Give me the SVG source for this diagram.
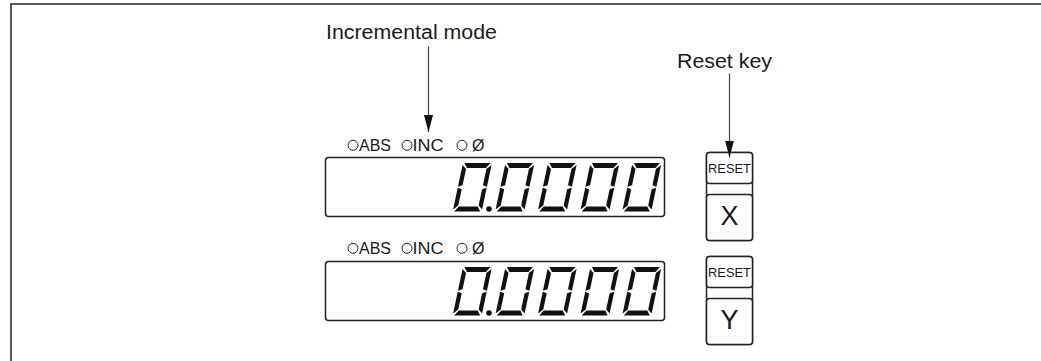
<svg xmlns="http://www.w3.org/2000/svg" width="1041" height="361" viewBox="0 0 1041 361">
<style>
text{font-family:"Liberation Sans",Arial,sans-serif;fill:#1a1a1a}
.frame{fill:none;stroke:#5a5a5a;stroke-width:2}
.box{fill:#fff;stroke:#222;stroke-width:1.5}
.led{fill:none;stroke:#222;stroke-width:1}
.seg{fill:#111}
.conn{stroke:#444;stroke-width:1.2;fill:none}
.lbl{font-size:16px}
.callout{font-size:20px}
.rst{font-size:13.5px}
.axis{font-size:27px}
</style>
<defs>
<g id="zero" class="seg">
<polygon points="1.5,0 27.5,0 24,5 5,5"/>
<polygon points="5,43.5 24,43.5 27.5,48.5 1.5,48.5"/>
<polygon points="0,2 4.3,6 4.3,22.3 0,23.8"/>
<polygon points="0,24.8 4.3,26.3 4.3,42.5 0,46.5"/>
<polygon points="29,2 29,23.8 24.7,22.3 24.7,6"/>
<polygon points="29,24.8 29,46.5 24.7,42.5 24.7,26.3"/>
</g>
<g id="readout">
<use href="#zero" transform="translate(463,0) skewX(-12)"/>
<circle class="seg" cx="489" cy="46" r="2.8"/>
<use href="#zero" transform="translate(505.5,0) skewX(-12)"/>
<use href="#zero" transform="translate(548,0) skewX(-12)"/>
<use href="#zero" transform="translate(590.5,0) skewX(-12)"/>
<use href="#zero" transform="translate(632.5,0) skewX(-12)"/>
</g>
<marker id="arr" markerWidth="17" markerHeight="9" refX="17" refY="4.5" orient="auto" markerUnits="userSpaceOnUse" viewBox="0 0 17 9">
<path d="M0,0 L17,4.5 L0,9 Z" fill="#111"/>
</marker>
</defs>

<path class="frame" d="M11,361 V4 H1041"/>

<g id="label-incremental">
<text class="callout" x="326" y="38.5" textLength="171" lengthAdjust="spacingAndGlyphs">Incremental mode</text>
</g>
<g id="label-reset">
<text class="callout" x="677" y="67.5" textLength="95" lengthAdjust="spacingAndGlyphs">Reset key</text>
</g>

<g id="display-x">
<g id="indicators-x">
<circle class="led" cx="353" cy="145.3" r="5"/>
<text class="lbl" x="359" y="150.5" textLength="32" lengthAdjust="spacingAndGlyphs">ABS</text>
<circle class="led" cx="407" cy="145.3" r="5"/>
<text class="lbl" x="412.5" y="150.5" textLength="31" lengthAdjust="spacingAndGlyphs">INC</text>
<circle class="led" cx="462" cy="145.3" r="5"/>
<text class="lbl" x="472" y="150.5">Ø</text>
</g>
<rect class="box" x="325.5" y="157.5" width="339" height="59" rx="3"/>
<use href="#readout" transform="translate(0,163)"/>
</g>

<g id="display-y">
<g id="indicators-y">
<circle class="led" cx="353" cy="248.3" r="5"/>
<text class="lbl" x="359" y="253.5" textLength="32" lengthAdjust="spacingAndGlyphs">ABS</text>
<circle class="led" cx="407" cy="248.3" r="5"/>
<text class="lbl" x="412.5" y="253.5" textLength="31" lengthAdjust="spacingAndGlyphs">INC</text>
<circle class="led" cx="462" cy="248.3" r="5"/>
<text class="lbl" x="472" y="253.5">Ø</text>
</g>
<rect class="box" x="325.5" y="261.5" width="339" height="59" rx="3"/>
<use href="#readout" transform="translate(0,267)"/>
</g>

<g id="key-x">
<rect class="box" x="706.5" y="152.5" width="46" height="88" rx="3"/>
<rect class="box" x="706.5" y="152.5" width="46" height="31" rx="3"/>
<rect class="box" x="706.5" y="194.5" width="46" height="46" rx="3"/>
<text class="rst" x="729.5" y="172.5" text-anchor="middle" textLength="43" lengthAdjust="spacingAndGlyphs">RESET</text>
<text class="axis" x="729.5" y="225" text-anchor="middle">X</text>
</g>

<g id="key-y">
<rect class="box" x="706.5" y="256.5" width="46" height="88" rx="3"/>
<rect class="box" x="706.5" y="256.5" width="46" height="31" rx="3"/>
<rect class="box" x="706.5" y="298.5" width="46" height="46" rx="3"/>
<text class="rst" x="729.5" y="276.5" text-anchor="middle" textLength="43" lengthAdjust="spacingAndGlyphs">RESET</text>
<text class="axis" x="729.5" y="329" text-anchor="middle">Y</text>
</g>

<g id="connectors">
<line class="conn" x1="428.5" y1="46.5" x2="428.5" y2="132" marker-end="url(#arr)"/>
<line class="conn" x1="729.5" y1="73.5" x2="729.5" y2="157.5" marker-end="url(#arr)"/>
</g>
</svg>
